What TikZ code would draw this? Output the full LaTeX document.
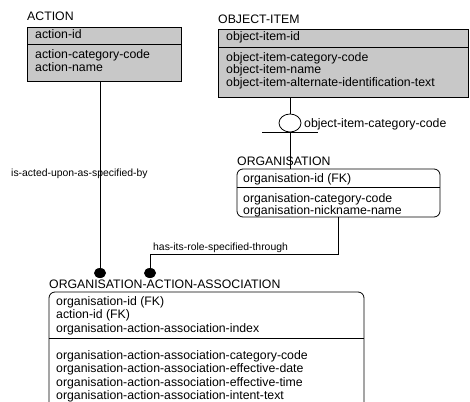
\documentclass[tikz,border=0pt]{standalone}
\usepackage{fontspec}
\setmainfont{Liberation Sans}
\usetikzlibrary{shapes.geometric}
\definecolor{entfill}{RGB}{200,200,200}
\tikzset{
  x=1pt, y=-1pt,
  edge/.style={draw=black, line width=0.8pt},
  keybox/.style={draw=black, line width=0.8pt, fill=entfill, inner sep=0pt},
  depbox/.style={draw=black, line width=0.8pt, fill=white, rounded corners=6pt, inner sep=0pt},
  attr/.style={anchor=base west, inner sep=0pt, font=\fontsize{12.3}{13}\selectfont},
  relname/.style={anchor=base west, inner sep=0pt, font=\fontsize{10.4}{12}\selectfont},
  manydot/.style={ellipse, fill=black, draw=none, minimum width=12pt, minimum height=10pt, inner sep=0pt},
  subsym/.style={ellipse, draw=black, line width=0.8pt, fill=white, minimum width=22pt, minimum height=18pt, inner sep=0pt},
}
\begin{document}
\begin{tikzpicture}
\useasboundingbox[fill=white] (0,0) rectangle (470,401);

% ---- ACTION ----
\node[keybox, minimum width=154pt, minimum height=54pt] (action) at (104,54) {};
\draw[edge] (27,44) -- (181,44);
\node[attr] (actionT) at (27,21) {ACTION};
\node[attr] (a1) at (35,38.5) {action-id};
\node[attr] (a2) at (35,59) {action-category-code};
\node[attr] (a3) at (35,71.5) {action-name};

% ---- OBJECT-ITEM ----
\node[keybox, minimum width=250pt, minimum height=68pt] (oi) at (343,63) {};
\draw[edge] (218,47) -- (468,47);
\node[attr] (oiT) at (218,24) {OBJECT-ITEM};
\node[attr] (o1) at (226,41) {object-item-id};
\node[attr] (o2) at (226,61.5) {object-item-category-code};
\node[attr] (o3) at (226,74) {object-item-name};
\node[attr] (o4) at (226,86.5) {object-item-alternate-identification-text};

% ---- ORGANISATION ----
\node[depbox, minimum width=203pt, minimum height=48pt] (org) at (338.5,193) {};
\draw[edge] (237,187) -- (440,187);
\node[attr] (orgT) at (237,165) {ORGANISATION};
\node[attr] (g1) at (243,182) {organisation-id (FK)};
\node[attr] (g2) at (243,202) {organisation-category-code};
\node[attr] (g3) at (243,214) {organisation-nickname-name};

% ---- ORGANISATION-ACTION-ASSOCIATION ----
\node[depbox, minimum width=315pt, minimum height=116pt] (assoc) at (206.5,350) {};
\draw[edge] (49,338) -- (364,338);
\node[attr] (asT) at (49,288) {ORGANISATION-ACTION-ASSOCIATION};
\node[attr] (s1) at (56,305) {organisation-id (FK)};
\node[attr] (s2) at (56,318.5) {action-id (FK)};
\node[attr] (s3) at (56,332) {organisation-action-association-index};
\node[attr] (s4) at (56,359) {organisation-action-association-category-code};
\node[attr] (s5) at (56,372.5) {organisation-action-association-effective-date};
\node[attr] (s6) at (56,386) {organisation-action-association-effective-time};
\node[attr] (s7) at (56,399.5) {organisation-action-association-intent-text};

% ---- subtype symbol between OBJECT-ITEM and ORGANISATION ----
\node[subsym] (sub) at (290,123) {};
\coordinate (barL) at (262,132);
\coordinate (barR) at (318,132);
\draw[edge] (sub.north |- oi.south) -- (sub.north);
\draw[edge] (barL) -- (barR);
\draw[edge] (sub.south) -- (sub.south |- org.north);
\node[attr] (subT) at (304,127) {object-item-category-code};

% ---- relationships ----
\node[manydot] (d1) at (100,273) {};
\node[manydot] (d2) at (150,273) {};
\node[relname] (r1) at (11,176) {is-acted-upon-as-specified-by};
\draw[edge] (d1 |- action.south) -- (d1.center);

\coordinate (bend) at (338,254);
\draw[edge] (bend |- org.south) -- (bend) -| (d2.center);
\node[relname] (r2) at (153,250) {has-its-role-specified-through};
\end{tikzpicture}
\end{document}
